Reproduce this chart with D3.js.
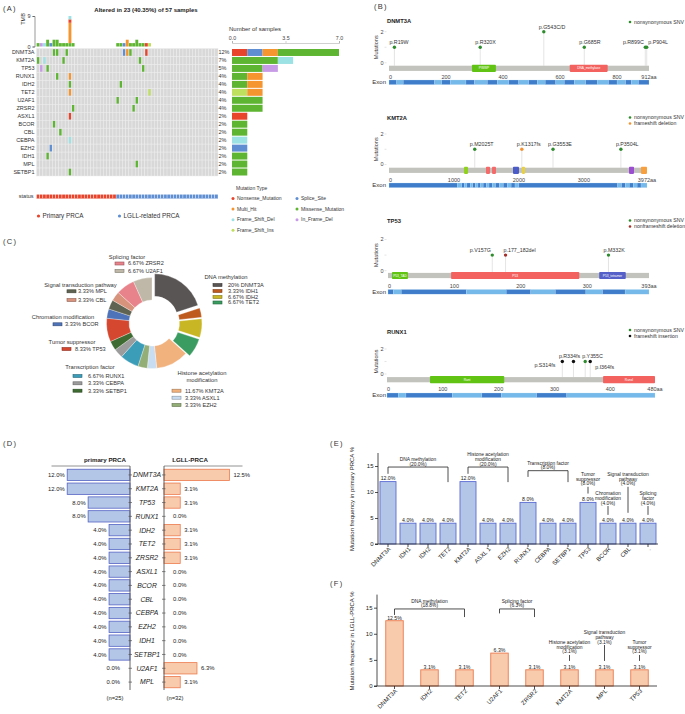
<!DOCTYPE html>
<html>
<head>
<meta charset="utf-8">
<script src="https://cdn.jsdelivr.net/npm/d3@7"></script>
<style>
  body { margin: 0; background: #fff; }
  svg { display: block; font-family: "Liberation Sans", Arial, Helvetica, sans-serif; }
</style>
</head>
<body>
<svg id="fig" width="685" height="714"></svg>
<script>
// ---------- (A) oncoprint data ----------
const nSamples = 57;
const nPrimary = 25;
const oncoGenes = ["DNMT3A","KMT2A","TP53","RUNX1","IDH2","TET2","U2AF1","ZRSR2","ASXL1","BCOR","CBL","CEBPA","EZH2","IDH1","MPL","SETBP1"];
const oncoPct = ["12%","7%","5%","4%","4%","4%","4%","4%","2%","2%","2%","2%","2%","2%","2%","2%"];
const mutTypes = ["Nonsense_Mutation","Splice_Site","Multi_Hit","Missense_Mutation","Frame_Shift_Del","In_Frame_Del","Frame_Shift_Ins"];
const mutColors = ["#e8432b","#5f8fd2","#f5952f","#5db531","#9ce1e3","#c89be6","#bfdf5f"];
// gene, sample column, variant type
const oncoCells = [
  ["DNMT3A",5,"Missense_Mutation"],["DNMT3A",6,"Missense_Mutation"],["DNMT3A",9,"Missense_Mutation"],
  ["DNMT3A",27,"Splice_Site"],["DNMT3A",28,"Multi_Hit"],["DNMT3A",29,"Missense_Mutation"],["DNMT3A",34,"Nonsense_Mutation"],
  ["KMT2A",0,"Missense_Mutation"],["KMT2A",2,"Frame_Shift_Del"],["KMT2A",8,"Missense_Mutation"],["KMT2A",32,"Missense_Mutation"],
  ["TP53",1,"In_Frame_Del"],["TP53",3,"Missense_Mutation"],["TP53",33,"Missense_Mutation"],
  ["RUNX1",6,"Missense_Mutation"],["RUNX1",10,"Multi_Hit"],
  ["IDH2",10,"Missense_Mutation"],["IDH2",26,"Missense_Mutation"],
  ["TET2",10,"Multi_Hit"],["TET2",35,"Frame_Shift_Ins"],
  ["U2AF1",25,"Missense_Mutation"],["U2AF1",31,"Missense_Mutation"],
  ["ZRSR2",11,"Missense_Mutation"],["ZRSR2",30,"Missense_Mutation"],
  ["ASXL1",10,"Nonsense_Mutation"],["BCOR",5,"Missense_Mutation"],["CBL",7,"Missense_Mutation"],
  ["CEBPA",10,"Frame_Shift_Del"],["EZH2",4,"Splice_Site"],["IDH1",3,"Missense_Mutation"],
  ["MPL",31,"Missense_Mutation"],["SETBP1",10,"Missense_Mutation"]
];
// TMB stacks: sample column, type, count
const tmbBars = [
  [0,"Missense_Mutation",1],[1,"In_Frame_Del",1],[2,"Frame_Shift_Del",1],[3,"Missense_Mutation",2],
  [4,"Splice_Site",1],[5,"Missense_Mutation",2],[6,"Missense_Mutation",2],[7,"Missense_Mutation",1],
  [8,"Missense_Mutation",1],[9,"Missense_Mutation",1],
  [10,"Missense_Mutation",1],[10,"Multi_Hit",6],[10,"Nonsense_Mutation",1],[10,"Frame_Shift_Del",1],
  [11,"Missense_Mutation",1],[25,"Missense_Mutation",1],[26,"Missense_Mutation",1],[27,"Splice_Site",1],
  [28,"Multi_Hit",2],[29,"Missense_Mutation",1],[30,"Missense_Mutation",1],[31,"Missense_Mutation",2],
  [32,"Missense_Mutation",1],[33,"Missense_Mutation",1],[34,"Nonsense_Mutation",1],[35,"Frame_Shift_Ins",1]
];
// number of samples per gene, stacked by type
const sideBars = [
  ["DNMT3A","Nonsense_Mutation",1],["DNMT3A","Splice_Site",1],["DNMT3A","Multi_Hit",1],["DNMT3A","Missense_Mutation",4],
  ["KMT2A","Missense_Mutation",3],["KMT2A","Frame_Shift_Del",1],
  ["TP53","Missense_Mutation",2],["TP53","In_Frame_Del",1],
  ["RUNX1","Missense_Mutation",1],["RUNX1","Multi_Hit",1],
  ["IDH2","Missense_Mutation",1],["IDH2","Multi_Hit",1],
  ["TET2","Frame_Shift_Ins",1],["TET2","Multi_Hit",1],
  ["U2AF1","Missense_Mutation",2],["ZRSR2","Missense_Mutation",2],["ASXL1","Nonsense_Mutation",1],
  ["BCOR","Missense_Mutation",1],["CBL","Missense_Mutation",1],["CEBPA","Frame_Shift_Del",1],
  ["EZH2","Splice_Site",1],["IDH1","Missense_Mutation",1],["MPL","Missense_Mutation",1],["SETBP1","Missense_Mutation",1]
];

// ---------- (B) lollipop data ----------
const lolliGenes = ["DNMT3A","KMT2A","TP53","RUNX1"];
const proteinLen = [912, 3972, 393, 480];
const lolliTypes = ["nonsynonymous SNV","frameshift deletion","nonframeshift deletion","frameshift insertion"];
const lolliColors = ["#2e8b2e","#f5922f","#a3302a","#111111"];
// gene, domain, start aa, end aa, colour
const domains = [
  ["DNMT3A","PWWP",291,375,"#61c414"],["DNMT3A","DNA_methylase",634,767,"#f4625f"],
  ["KMT2A","",1155,1216,"#8fd11e"],["KMT2A","",1493,1555,"#f46a6a"],["KMT2A","",1586,1647,"#f46a6a"],
  ["KMT2A","",1909,2001,"#4b5bc8"],["KMT2A","",2047,2094,"#e8d040"],["KMT2A","",3695,3772,"#9b4fd0"],["KMT2A","",3879,3972,"#f7a040"],
  ["TP53","P53_TAD",6,30,"#61c414"],["TP53","P53",95,288,"#f4625f"],["TP53","P53_tetramer",318,358,"#5560c8"],
  ["RUNX1","Runt",77,210,"#61c414"],["RUNX1","RunxI",387,480,"#f4625f"]
];
// gene, label, aa position, count, type
const lolliMuts = [
  ["DNMT3A","p.R19W",19,1,"nonsynonymous SNV"],["DNMT3A","p.R320X",320,1,"nonsynonymous SNV"],
  ["DNMT3A","p.G543C/D",543,2,"nonsynonymous SNV"],["DNMT3A","p.G685R",685,1,"nonsynonymous SNV"],
  ["DNMT3A","p.R899C",899,1,"nonsynonymous SNV"],["DNMT3A","p.P904L",904,1,"nonsynonymous SNV"],
  ["KMT2A","p.M2025T",1320,1,"nonsynonymous SNV"],["KMT2A","p.K1317fs",2045,1,"frameshift deletion"],
  ["KMT2A","p.G3553E",2525,1,"nonsynonymous SNV"],["KMT2A","p.P3504L",3570,1,"nonsynonymous SNV"],
  ["TP53","p.V157G",157,1,"nonsynonymous SNV"],["TP53","p.177_182del",177,1,"nonframeshift deletion"],
  ["TP53","p.M332K",332,1,"nonsynonymous SNV"],
  ["RUNX1","p.S314fs",314,1,"frameshift insertion"],["RUNX1","p.R334fs",334,1,"frameshift insertion"],
  ["RUNX1","p.Y355C",355,1,"nonsynonymous SNV"],["RUNX1","p.I364fs",364,1,"frameshift insertion"]
];
const exonDNMT3A = [0,27,50,160,185,215,270,300,345,380,420,455,490,520,548,585,615,650,690,730,770,800,830,850,875,912];
const exonKMT2A = [0,1050,1120,1160,1200,1250,1290,1330,1370,1410,1450,1500,1540,1590,1640,1700,1760,1820,1880,1940,2000,3520,3580,3640,3700,3760,3820,3880,3972];
const exonTP53 = [0,8,20,118,178,215,252,298,323,357,393];
const exonRUNX1 = [0,20,34,117,170,205,268,322,480];

// ---------- (C) donut data ----------
const pieGenes = ["DNMT3A","IDH1","IDH2","TET2","KMT2A","ASXL1","EZH2","RUNX1","CEBPA","SETBP1","TP53","BCOR","MPL","CBL","ZRSR2","U2AF1"];
const piePct = [20,3.33,6.67,6.67,11.67,3.33,3.33,6.67,3.33,3.33,8.33,3.33,3.33,3.33,6.67,6.67];
const pieColors = ["#5a5555","#bf5a1f","#c8b624","#3a9c60","#f2b27e","#c9ddf2","#94ae77","#3c9db9","#9c9c9c","#3e6b31","#d5472f","#4f73b8","#5f6452","#d7937c","#e9838b","#bfb8a8"];
const pieGroups = ["Splicing factor","DNA methylation","Signal transduction pathway","Chromation modification","Tumor suppressor","Transcription factor","Histone acetylation modification"];
const pieGroupGenes = [["ZRSR2","U2AF1"],["DNMT3A","IDH1","IDH2","TET2"],["MPL","CBL"],["BCOR"],["TP53"],["RUNX1","CEBPA","SETBP1"],["KMT2A","ASXL1","EZH2"]];

// ---------- (D) butterfly data ----------
const bfGenes = ["DNMT3A","KMT2A","TP53","RUNX1","IDH2","TET2","ZRSR2","ASXL1","BCOR","CBL","CEBPA","EZH2","IDH1","SETBP1","U2AF1","MPL"];
const bfPrimary = [12,12,8,8,4,4,4,4,4,4,4,4,4,4,0,0];
const bfLgll = [12.5,3.1,3.1,0,3.1,3.1,3.1,0,0,0,0,0,0,0,6.3,3.1];

// ---------- (E) / (F) data ----------
const primGenes = ["DNMT3A","IDH1","IDH2","TET2","KMT2A","ASXL 1","EZH2","RUNX1","CEBPA","SETBP1","TP53","BCOR","CBL","."];
const primFreq = [12,4,4,4,12,4,4,8,4,4,8,4,4,4];
const primGroupText = [["DNA methylation","(20.0%)"],["Histone acetylation","modification","(20.0%)"],["Transcription factor","(8.0%)"],
  ["Tumor","suppressor","(8.0%)"],["Chromation","modification","(4.0%)"],["Signal transduction","pathway","(4.0%)"],["Splicing","factor","(4.0%)"]];
const primGroupSpan = [["DNMT3A","TET2"],["KMT2A","EZH2"],["RUNX1","SETBP1"],["TP53"],["BCOR"],["CBL"],["."]];
const lgllGenes = ["DNMT3A","IDH2","TET2","U2AF1","ZRSR2","KMT2A","MPL","TP53"];
const lgllFreq = [12.5,3.1,3.1,6.3,3.1,3.1,3.1,3.1];
const lgllGroupText = [["DNA methylation","(18.8%)"],["Splicing factor","(6.3%)"],["Histone acetylation","modification","(3.1%)"],
  ["Signal transduction","pathway","(3.1%)"],["Tumor","suppressor","(3.1%)"]];
const lgllGroupSpan = [["DNMT3A","TET2"],["U2AF1","ZRSR2"],["KMT2A"],["MPL"],["TP53"]];

// ================= drawing =================
const svg = d3.select("#fig");
svg.append("rect").attr("width", 685).attr("height", 714).attr("fill", "#fff");

function addText(g, x, y, s, size, o) {
  o = o || {};
  const t = g.append("text").attr("x", x).attr("y", y)
    .attr("font-size", size).attr("text-anchor", o.anchor || "start")
    .attr("fill", o.fill || "#222").text(s);
  if (o.weight) t.attr("font-weight", o.weight);
  if (o.italic) t.attr("font-style", "italic");
  if (o.mid) t.attr("dy", "0.35em");
  if (o.rotate) t.attr("transform", `rotate(${o.rotate},${x},${y})`);
  return t;
}

// panel letters
[["(A)",3,11],["(B)",374,9],["(C)",3,244],["(D)",3,446],["(E)",330,446],["(F)",330,586]].forEach(p =>
  addText(svg, p[1], p[2], p[0], 7.5, {fill:"#333"}).attr("letter-spacing", 1.3));

const typeColor = d3.scaleOrdinal().domain(mutTypes).range(mutColors);

// ---------- (A) ----------
const gA = svg.append("g");
addText(gA, 146, 12, "Altered in 23 (40.35%) of 57 samples", 6, {anchor:"middle", weight:"bold"});

const xS = d3.scaleBand().domain(d3.range(nSamples)).range([36.5, 218]);
const yG = d3.scaleBand().domain(oncoGenes).range([48.5, 176]);

const bgCells = d3.cross(oncoGenes, d3.range(nSamples));
gA.selectAll(".bg").data(bgCells).enter().append("rect")
  .attr("x", d => xS(d[1])).attr("y", d => yG(d[0]))
  .attr("width", xS.bandwidth()).attr("height", yG.bandwidth())
  .attr("fill", "#d8d8d8").attr("stroke", "#eeeeee").attr("stroke-width", 0.45);

gA.selectAll(".mut").data(oncoCells).enter().append("rect")
  .attr("x", d => xS(d[1]) + xS.bandwidth() * 0.14)
  .attr("width", xS.bandwidth() * 0.72)
  .attr("y", d => yG(d[0]) + 0.7).attr("height", yG.bandwidth() - 1.4)
  .attr("fill", d => typeColor(d[2]));

gA.selectAll(".gl").data(oncoGenes).enter().append("text")
  .attr("x", 34.5).attr("y", d => yG(d) + yG.bandwidth() / 2).attr("dy", "0.35em")
  .attr("text-anchor", "end").attr("font-size", 5.5).attr("fill", "#333").text(d => d);
gA.selectAll(".pl").data(oncoPct).enter().append("text")
  .attr("x", 218.5).attr("y", (d, i) => yG(oncoGenes[i]) + yG.bandwidth() / 2).attr("dy", "0.35em")
  .attr("font-size", 5.5).attr("fill", "#333").text(d => d);

// TMB
const yT = d3.scaleLinear().domain([0, 9]).range([46.5, 16]);
const tmbAcc = {};
const tmbRects = tmbBars.map(d => {
  const b = tmbAcc[d[0]] || 0;
  tmbAcc[d[0]] = b + d[2];
  return {col: d[0], type: d[1], y0: b, y1: b + d[2]};
});
gA.selectAll(".tmb").data(tmbRects).enter().append("rect")
  .attr("x", d => xS(d.col) + 0.15).attr("width", xS.bandwidth() - 0.3)
  .attr("y", d => yT(d.y1)).attr("height", d => yT(d.y0) - yT(d.y1))
  .attr("fill", d => typeColor(d.type));
const tmbAxis = gA.append("g").attr("transform", "translate(34.5,0)")
  .call(d3.axisLeft(yT).tickValues([0, 9]).tickSize(2).tickPadding(2));
tmbAxis.selectAll("text").attr("font-size", 5.5).attr("fill", "#333");
tmbAxis.selectAll("path,line").attr("stroke", "#333").attr("stroke-width", 0.5);
addText(gA, 23, 19, "TMB", 5.5, {anchor:"middle", rotate:-90, mid:true});

// side bars
const xN = d3.scaleLinear().domain([0, 7]).range([232, 339]);
const sideAcc = {};
const sideRects = sideBars.map(d => {
  const b = sideAcc[d[0]] || 0;
  sideAcc[d[0]] = b + d[2];
  return {gene: d[0], type: d[1], x0: b, x1: b + d[2]};
});
gA.selectAll(".side").data(sideRects).enter().append("rect")
  .attr("x", d => xN(d.x0)).attr("width", d => xN(d.x1) - xN(d.x0))
  .attr("y", d => yG(d.gene) + 0.5).attr("height", yG.bandwidth() - 1)
  .attr("fill", d => typeColor(d.type));
const nAxis = gA.append("g").attr("transform", "translate(0,43)")
  .call(d3.axisTop(xN).tickValues([0, 3.5, 7]).tickFormat(d3.format(".1f")).tickSize(2).tickPadding(1.5));
nAxis.selectAll("text").attr("font-size", 5.3).attr("fill", "#444");
nAxis.selectAll("path,line").attr("stroke", "#888").attr("stroke-width", 0.4);
addText(gA, 229, 31, "Number of samples", 6, {fill:"#333"});

// status
addText(gA, 33.5, 196.5, "status", 5.5, {anchor:"end", mid:true, fill:"#333"});
gA.selectAll(".st").data(d3.range(nSamples)).enter().append("rect")
  .attr("x", d => xS(d)).attr("width", xS.bandwidth()).attr("y", 194.3).attr("height", 4.5)
  .attr("fill", d => d < nPrimary ? "#e8432b" : "#5f8fd2")
  .attr("stroke", "#fff").attr("stroke-width", 0.35);
gA.append("circle").attr("cx", 38.5).attr("cy", 216).attr("r", 1.6).attr("fill", "#e8432b");
addText(gA, 42.5, 216, "Primary PRCA", 6.3, {mid:true, fill:"#333"});
gA.append("circle").attr("cx", 119.5).attr("cy", 216).attr("r", 1.6).attr("fill", "#5f8fd2");
addText(gA, 123.5, 216, "LGLL-related PRCA", 6.3, {mid:true, fill:"#333"});

// mutation type legend
addText(gA, 236, 188.5, "Mutation Type", 5, {mid:true, fill:"#333"});
const legendOrder = ["Nonsense_Mutation","Splice_Site","Multi_Hit","Missense_Mutation","Frame_Shift_Del","In_Frame_Del","Frame_Shift_Ins"];
legendOrder.forEach((t, i) => {
  const cx = i % 2 === 0 ? 233 : 297;
  const cy = 198.5 + Math.floor(i / 2) * 10.6;
  gA.append("circle").attr("cx", cx).attr("cy", cy).attr("r", 1.5).attr("fill", typeColor(t));
  addText(gA, cx + 4, cy, t, 5, {mid:true, fill:"#333"});
});

// ---------- (B) ----------
const lolliLayout = [
  {titleY:21, zero:62.8, two:31.7, barY:68.3, x:[389,649], tickY:77.5, exonY:80, ticks:[0,200,400,600,800], legY:22, exon:exonDNMT3A},
  {titleY:118, zero:164.5, two:134, barY:170.3, x:[389,647], tickY:180.5, exonY:183, ticks:[0,1000,2000,3000], legY:117.5, exon:exonKMT2A},
  {titleY:220.5, zero:270.7, two:239.5, barY:275.5, x:[388,649], tickY:286.5, exonY:289.5, ticks:[0,100,200,300], legY:220.5, exon:exonTP53},
  {titleY:331.5, zero:374, two:349, barY:379.7, x:[387,655], tickY:389, exonY:393, ticks:[0,100,200,300,400], legY:330, exon:exonRUNX1}
];
const labelPos = {
  "p.R899C":["end",-1.5,-3], "p.P904L":["start",1.5,-3], "p.V157G":["end",-1.5,-3],
  "p.177_182del":["start",-2,-3], "p.S314fs":["end",-7,5.5], "p.R334fs":["middle",-4,-3.5],
  "p.Y355C":["start",-3,-3.5], "p.I364fs":["start",5,7.5]
};
const lolliLegend = [["nonsynonymous SNV"],["nonsynonymous SNV","frameshift deletion"],
  ["nonsynonymous SNV","nonframeshift deletion"],["nonsynonymous SNV","frameshift insertion"]];
const lolliColor = d3.scaleOrdinal().domain(lolliTypes).range(lolliColors);

lolliGenes.forEach((gene, gi) => {
  const L = lolliLayout[gi];
  const g = svg.append("g");
  const len = proteinLen[gi];
  const x = d3.scaleLinear().domain([0, len]).range(L.x);
  const y = d3.scaleLinear().domain([0, 2]).range([L.zero, L.two]);

  addText(g, 387, L.titleY, gene, 5.8, {weight:"bold", mid:true});
  lolliLegend[gi].forEach((t, k) => {
    const ly = L.legY + k * 6;
    g.append("circle").attr("cx", 630).attr("cy", ly).attr("r", 1.3).attr("fill", lolliColor(t));
    addText(g, 634, ly, t, 5.2, {mid:true, fill:"#333"});
  });

  // y axis
  addText(g, 376, (L.zero + L.two) / 2, "Mutations", 5.5, {anchor:"middle", rotate:-90, mid:true, fill:"#333"});
  [0, 2].forEach(v => addText(g, 383.5, y(v), String(v), 5.5, {anchor:"end", mid:true, fill:"#444"}));
  g.selectAll(".yt").data([0, 1, 2]).enter().append("line")
    .attr("x1", 384.5).attr("x2", 386.5).attr("y1", d => y(d)).attr("y2", d => y(d))
    .attr("stroke", "#bbb").attr("stroke-width", 0.4);

  // stems and dots
  const muts = lolliMuts.filter(m => m[0] === gene);
  g.selectAll(".stem").data(muts).enter().append("line")
    .attr("x1", d => x(d[2])).attr("x2", d => x(d[2]))
    .attr("y1", L.barY - 2.5).attr("y2", d => y(d[3]))
    .attr("stroke", "#d2d2d2").attr("stroke-width", 0.6);

  // protein backbone and domains
  g.append("rect").attr("x", x(0)).attr("width", x(len) - x(0))
    .attr("y", L.barY - 2.6).attr("height", 5.2).attr("fill", "#c3c3bd");
  const doms = domains.filter(d => d[0] === gene);
  g.selectAll(".dom").data(doms).enter().append("rect")
    .attr("x", d => x(d[2])).attr("width", d => x(d[3]) - x(d[2]))
    .attr("y", L.barY - 3.6).attr("height", 7.2).attr("rx", 0.8).attr("fill", d => d[4]);
  g.selectAll(".domt").data(doms.filter(d => d[1])).enter().append("text")
    .attr("x", d => x((d[2] + d[3]) / 2)).attr("y", L.barY).attr("dy", "0.35em")
    .attr("text-anchor", "middle").attr("font-size", 3.2).attr("fill", "#fff").text(d => d[1]);

  g.selectAll(".dot").data(muts).enter().append("circle")
    .attr("cx", d => x(d[2])).attr("cy", d => y(d[3])).attr("r", 1.7)
    .attr("fill", d => lolliColor(d[4]));
  g.selectAll(".ml").data(muts).enter().append("text")
    .attr("x", d => x(d[2]) + (labelPos[d[1]] ? labelPos[d[1]][1] : -5))
    .attr("y", d => y(d[3]) + (labelPos[d[1]] ? labelPos[d[1]][2] : -3))
    .attr("text-anchor", d => labelPos[d[1]] ? labelPos[d[1]][0] : "start")
    .attr("font-size", 5.3).attr("fill", "#333").text(d => d[1]);

  // x ticks
  const tks = L.ticks.concat([len]);
  g.selectAll(".xt").data(tks).enter().append("text")
    .attr("x", d => x(d)).attr("y", L.tickY).attr("dy", "0.35em")
    .attr("text-anchor", (d, i) => i === 0 ? "start" : "middle")
    .attr("font-size", 5.5).attr("fill", "#444")
    .text((d, i) => i === tks.length - 1 ? d + "aa" : d);

  // exon track
  const ex = L.exon;
  g.selectAll(".ex").data(d3.range(ex.length - 1)).enter().append("rect")
    .attr("x", i => x(ex[i])).attr("width", i => x(ex[i + 1]) - x(ex[i]))
    .attr("y", L.exonY).attr("height", 4.6)
    .attr("fill", i => i % 2 === 0 ? "#3f7cca" : "#74b9e9")
    .attr("stroke", "#b9daf3").attr("stroke-width", 0.25);
  addText(g, 386, L.exonY + 2.3, "Exon", 6, {anchor:"end", mid:true, fill:"#333"});
});

// ---------- (C) ----------
const gC = svg.append("g").attr("transform", "translate(152,323)");
const pieData = pieGenes.map((gname, i) => ({gene: gname, v: piePct[i], color: pieColors[i],
  group: pieGroups[pieGroupGenes.findIndex(a => a.includes(gname))]}));
const pieArcs = d3.pie().sort(null).value(d => d.v)(pieData);
const arc = d3.arc().innerRadius(23).outerRadius(45.5);
gC.selectAll("path").data(pieArcs).enter().append("path")
  .attr("d", arc).attr("fill", d => d.data.color)
  .attr("stroke", "#fff").attr("stroke-width", 0.3)
  .attr("transform", d => {
    if (d.data.group !== "DNA methylation") return null;
    const a = (d.startAngle + d.endAngle) / 2;
    return `translate(${Math.sin(a) * 4.5},${-Math.cos(a) * 4.5})`;
  });

const pieLegendLayout = [
  {title:[[127,256.5]], sw:115, tx:128, rows:[263.5,271]},
  {title:[[226,276.5]], sw:213, tx:228, rows:[285,291,297,302.5]},
  {title:[[80.5,285]], sw:67, tx:78, rows:[291.3,300]},
  {title:[[63,317]], sw:53, tx:65, rows:[324.3]},
  {title:[[72,342]], sw:62, tx:75, rows:[349]},
  {title:[[90,367]], sw:73, tx:88, rows:[376,383.3,390.7]},
  {title:[[202,373.3],[202,380]], sw:172, tx:185, rows:[390.7,397.7,405]}
];
pieGroups.forEach((grp, k) => {
  const Lg = pieLegendLayout[k];
  const titleLines = Lg.title.length > 1 ? ["Histone acetylation", "modification"] : [grp];
  titleLines.forEach((t, j) => addText(svg, Lg.title[j][0], Lg.title[j][1], t, 5.8, {anchor:"middle", mid:true, fill:"#333"}));
  pieGroupGenes[k].forEach((gname, j) => {
    const i = pieGenes.indexOf(gname);
    const yy = Lg.rows[j];
    svg.append("rect").attr("x", Lg.sw).attr("y", yy - 1.5).attr("width", 9).attr("height", 3)
      .attr("fill", pieColors[i]).attr("stroke", d3.color(pieColors[i]).darker(1.2)).attr("stroke-width", 0.6);
    addText(svg, Lg.tx, yy, piePct[i] + "% " + gname, 5.6, {mid:true, fill:"#333"});
  });
});

// ---------- (D) ----------
const gD = svg.append("g");
const yR = d3.scaleBand().domain(bfGenes).range([468, 689]).paddingInner(0.18).paddingOuter(0.09);
const xL = d3.scaleLinear().domain([0, 15]).range([130, 51.5]);
const xR = d3.scaleLinear().domain([0, 15]).range([164, 242.5]);
gD.append("line").attr("x1", xL(15)).attr("x2", xL(0)).attr("y1", 466).attr("y2", 466).attr("stroke", "#777").attr("stroke-width", 0.8);
gD.append("line").attr("x1", xR(0)).attr("x2", xR(15)).attr("y1", 466).attr("y2", 466).attr("stroke", "#777").attr("stroke-width", 0.8);
addText(gD, 105, 459.5, "primary PRCA", 6.2, {anchor:"middle", weight:"bold", mid:true});
addText(gD, 190, 459.5, "LGLL-PRCA", 6.2, {anchor:"middle", weight:"bold", mid:true});

gD.selectAll(".bl").data(bfPrimary).enter().append("rect")
  .attr("x", d => xL(d)).attr("width", d => xL(0) - xL(d))
  .attr("y", (d, i) => yR(bfGenes[i])).attr("height", yR.bandwidth())
  .attr("fill", "#b4c6e7").attr("stroke", "#5463c4").attr("stroke-width", d => d > 0 ? 0.8 : 0);
gD.selectAll(".br").data(bfLgll).enter().append("rect")
  .attr("x", xR(0)).attr("width", d => xR(d) - xR(0))
  .attr("y", (d, i) => yR(bfGenes[i])).attr("height", yR.bandwidth())
  .attr("fill", "#f8cbad").attr("stroke", "#ec7a4d").attr("stroke-width", d => d > 0 ? 0.8 : 0);

gD.append("line").attr("x1", 130).attr("x2", 130).attr("y1", 466).attr("y2", 690).attr("stroke", "#555").attr("stroke-width", 0.9);
gD.append("line").attr("x1", 164).attr("x2", 164).attr("y1", 466).attr("y2", 690).attr("stroke", "#555").attr("stroke-width", 0.9);
bfGenes.forEach((gname, i) => {
  const cy = yR(gname) + yR.bandwidth() / 2;
  gD.append("line").attr("x1", 128.5).attr("x2", 132).attr("y1", cy).attr("y2", cy).attr("stroke", "#555").attr("stroke-width", 0.7);
  gD.append("line").attr("x1", 162).attr("x2", 165.5).attr("y1", cy).attr("y2", cy).attr("stroke", "#555").attr("stroke-width", 0.7);
  addText(gD, 147, cy, gname, 6.8, {anchor:"middle", italic:true, mid:true});
  const pv = bfPrimary[i], lv = bfLgll[i];
  addText(gD, pv > 0 ? xL(pv) - 2.5 : 120, cy, pv.toFixed(1) + "%", 5.9, {anchor:"end", mid:true});
  addText(gD, lv > 0 ? xR(lv) + 4 : 173, cy, lv.toFixed(1) + "%", 5.9, {mid:true});
});
addText(gD, 115, 697.5, "(n=25)", 5.8, {anchor:"middle", mid:true});
addText(gD, 175, 697.5, "(n=32)", 5.8, {anchor:"middle", mid:true});

// ---------- (E) and (F) ----------
function freqPanel(cfg) {
  const g = svg.append("g");
  const x = d3.scaleBand().domain(cfg.genes).range(cfg.xr).paddingInner(cfg.pad).paddingOuter(cfg.pad / 2);
  const y = d3.scaleLinear().domain([0, 17.5]).range(cfg.yr);
  const cx = gname => x(gname) + x.bandwidth() / 2;

  g.selectAll(".bar").data(cfg.values).enter().append("rect")
    .attr("x", (d, i) => x(cfg.genes[i])).attr("width", x.bandwidth())
    .attr("y", d => y(d)).attr("height", d => y(0) - y(d))
    .attr("fill", cfg.fill).attr("stroke", cfg.stroke).attr("stroke-width", 0.9);
  g.selectAll(".val").data(cfg.values).enter().append("text")
    .attr("x", (d, i) => cx(cfg.genes[i])).attr("y", d => y(d) - 1.2)
    .attr("text-anchor", "middle").attr("font-size", 5.2).attr("fill", "#222")
    .text(d => d.toFixed(1) + "%");

  const ya = g.append("g").attr("transform", `translate(${cfg.xr[0]},0)`)
    .call(d3.axisLeft(y).tickValues([0, 5, 10, 15]).tickSize(3).tickPadding(1.5));
  ya.select(".domain").attr("d", `M-3,${y(0)}H0V${y(17.5)}`);
  const xa = g.append("g").attr("transform", `translate(0,${y(0)})`)
    .call(d3.axisBottom(x).tickSize(3).tickFormat(""));
  xa.select(".domain").attr("d", `M${cfg.xr[0]},0H${cfg.xr[1]}`);
  [ya, xa].forEach(a => {
    a.selectAll("path,line").attr("stroke", "#222").attr("stroke-width", 0.8);
    a.selectAll("text").attr("font-size", 6).attr("fill", "#222");
  });
  cfg.genes.forEach(gname => addText(g, cx(gname) + 3, y(0) + 5.5, gname, 6, {anchor:"end", rotate:-45}));
  addText(g, 352, cfg.ylabY, cfg.ylab, 6, {anchor:"middle", rotate:-90, mid:true});

  cfg.groups.forEach((span, k) => {
    const L = cfg.groupLayout[k];
    const lines = cfg.groupText[k];
    const xs = span.map(cx);
    const xm = (xs[0] + xs[xs.length - 1]) / 2;
    const top = y(L[0]);
    if (span.length > 1) {
      g.append("path")
        .attr("d", `M${xs[0]},${y(L[1])}V${top}H${xs[1]}V${y(L[2])}`)
        .attr("fill", "none").attr("stroke", "#222").attr("stroke-width", 0.8);
    } else {
      g.append("line").attr("x1", xm).attr("x2", xm).attr("y1", top).attr("y2", y(L[1]))
        .attr("stroke", "#222").attr("stroke-width", 0.8);
    }
    lines.forEach((t, j) => addText(g, xm, top - 3.2 - (lines.length - 1 - j) * 4.6, t, 4.9, {anchor:"middle", mid:true}));
  });
}

freqPanel({
  genes: primGenes, values: primFreq, xr: [378, 658], yr: [544, 453], pad: 0.2,
  fill: "#b4c6e7", stroke: "#5a6bd3",
  ylab: "Mutation frequency in primary PRCA %", ylabY: 499,
  groups: primGroupSpan, groupText: primGroupText,
  // bracket top, left arm end, right arm end (single line: top, bottom), in % units
  groupLayout: [[14.8,13.5,11.9],[14.8,13.5,11.9],[14.1,12.9,11.9],[11.0,9.7],[7.3,5.6],[11.0,6.0],[7.3,5.6]]
});
freqPanel({
  genes: lgllGenes, values: lgllFreq, xr: [377, 657], yr: [686, 594.6], pad: 0.5,
  fill: "#f8cbad", stroke: "#ec7a4d",
  ylab: "Mutation frequency in LGLL-PRCA %", ylabY: 641,
  groups: lgllGroupSpan, groupText: lgllGroupText,
  groupLayout: [[14.75,13.6,13.2],[14.75,13.9,13.2],[5.94,4.8],[7.85,4.8],[5.94,4.8]]
});
</script>
</body>
</html>
